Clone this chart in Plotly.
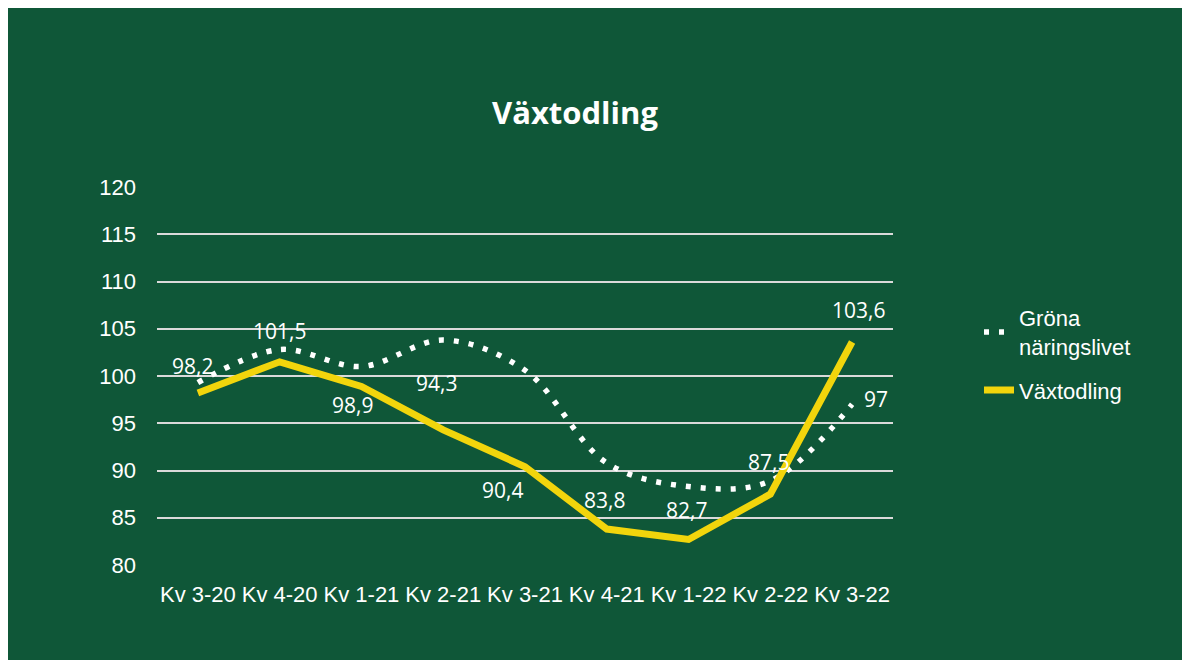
import plotly.graph_objects as go

categories = ["Kv 3-20", "Kv 4-20", "Kv 1-21", "Kv 2-21", "Kv 3-21",
              "Kv 4-21", "Kv 1-22", "Kv 2-22", "Kv 3-22"]
grona = [99.3, 102.8, 101.0, 103.8, 100.6, 90.8, 88.3, 88.9, 97.0]
vaxtodling = [98.2, 101.5, 98.9, 94.3, 90.4, 83.8, 82.7, 87.5, 103.6]
y_ticks = [80, 85, 90, 95, 100, 105, 110, 115, 120]

# label offsets (style), pixels
vax_label_shift = [(-5, 27), (0, 31), (-9, -19), (-7, 47), (-23, -23),
                   (-2, 29), (-2, 29), (-2, 32), (6, 32)]
grona_label_idx = 8
grona_label_shift = (24, 5)

GREEN = "#0F5738"
YELLOW = "#F2D50C"
W, H = 1174, 652
L, R, T, B = 149, 885, 179, 557


def fmt(v):
    return f"{v:g}".replace(".", ",")


fig = go.Figure()
fig.add_trace(go.Scatter(
    x=categories, y=grona, mode="lines", name="Gröna<br>näringslivet",
    legendgroup="g1",
    line=dict(color="white", width=5.5, dash="5px,10px", shape="spline", smoothing=1.0),
))
fig.add_trace(go.Scatter(
    x=categories, y=vaxtodling, mode="lines", name="Växtodling",
    legendgroup="g2",
    line=dict(color=YELLOW, width=7),
))

label_font = dict(family="Open Sans", size=21, color="white")
annotations = []
for c, v, (dx, dy) in zip(categories, vaxtodling, vax_label_shift):
    annotations.append(dict(x=c, y=v, xref="x", yref="y", text=fmt(v), showarrow=False,
                            xshift=dx, yshift=dy, font=label_font,
                            xanchor="center", yanchor="middle"))
annotations.append(dict(x=categories[grona_label_idx], y=grona[grona_label_idx],
                        xref="x", yref="y", text=fmt(grona[grona_label_idx]),
                        showarrow=False, xshift=grona_label_shift[0],
                        yshift=grona_label_shift[1], font=label_font,
                        xanchor="center", yanchor="middle"))

fig.update_layout(
    width=W, height=H,
    margin=dict(l=L, r=W - R, t=T, b=H - B),
    paper_bgcolor=GREEN, plot_bgcolor=GREEN,
    title=dict(text="<b>Växtodling</b>", x=567 / W, xanchor="center", xref="container",
               y=1 - 105 / H, yanchor="middle", yref="container",
               font=dict(family="Open Sans", size=31, color="white")),
    showlegend=True,
    legend=dict(x=971 / W, xref="container", y=1 - 289 / H, yref="container",
                xanchor="left", yanchor="top", bgcolor="rgba(0,0,0,0)",
                font=dict(family="Liberation Sans", size=22, color="white"),
                tracegroupgap=12, itemwidth=30, traceorder="grouped"),
    xaxis=dict(type="category", range=[-0.5, len(categories) - 0.5],
               showgrid=False, zeroline=False, showline=False,
               tickfont=dict(family="Liberation Sans", size=22, color="white"),
               ticks="", ticklabelstandoff=14),
    yaxis=dict(range=[80, 120], tickvals=y_ticks, showgrid=True,
               gridcolor="#DADADA", gridwidth=2, zeroline=False, showline=False,
               tickfont=dict(family="Liberation Sans", size=22, color="white"),
               ticks="", ticklabelstandoff=20),
    annotations=annotations,
)

fig.write_html(
    "out.html",
    post_script=("document.documentElement.style.overflow='hidden';"
                 "document.body.style.margin='8px 0 0 8px';"),
)
